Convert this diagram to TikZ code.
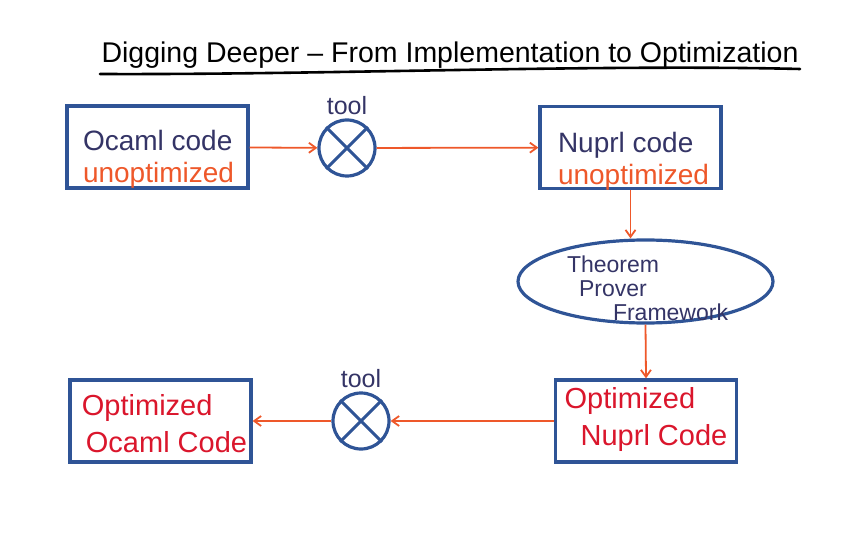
\documentclass[tikz,border=0pt]{standalone}
\usepackage{fontspec}
\setmainfont{Liberation Sans}
\usetikzlibrary{positioning,arrows.meta,shapes.geometric}
\definecolor{BoxBlue}{RGB}{47,84,150}
\definecolor{InkNavy}{RGB}{52,52,102}
\definecolor{InkOrange}{RGB}{238,88,42}
\definecolor{InkRed}{RGB}{218,22,44}
\tikzset{
  flow/.style={-{Straight Barb[length=7pt,width=10pt]},line width=1.8pt,draw=InkOrange},
  codebox/.style={draw=BoxBlue,line width=3.2pt,minimum width=181pt,minimum height=82pt},
  boxtext/.style={align=left,inner sep=0pt,font=\fontsize{28}{32}\selectfont},
  lowtext/.style={boxtext,font=\fontsize{29}{37}\selectfont,text=InkRed},
  toolnode/.style={circle,draw=BoxBlue,line width=3.2pt,minimum size=56pt,inner sep=0pt},
  toollabel/.style={font=\fontsize{25}{28}\selectfont,text=InkNavy},
  provernode/.style={ellipse,draw=BoxBlue,line width=3.2pt,minimum width=255pt,
    minimum height=83pt,inner sep=0pt},
  provertext/.style={align=left,inner sep=0pt,text=InkNavy,font=\fontsize{23}{24}\selectfont}
}

\begin{document}
\begin{tikzpicture}[x=1pt,y=-1pt]
  \useasboundingbox (0,0) rectangle (853,534);
  \node[font=\fontsize{28.5}{32}\selectfont] (title) at (450,55)
    {Digging Deeper -- From Implementation to Optimization};
  \coordinate (ulA) at (100,74);
  \coordinate (ulB) at (800,69);
  \draw[line width=2.6pt,line cap=round] (ulA) .. controls (320,75) and (600,64) .. (ulB);

  % top row
  \node[codebox] (ocaml) at (157.5,147) {};
  \node[boxtext] (ocamlText) at ([xshift=1pt,yshift=-12pt]ocaml.center)
    {{\color{InkNavy}Ocaml code}\\{\color{InkOrange}unoptimized}};
  \node[toolnode] (tool1) at (347,148) {};
  \node[toollabel,above=0pt of tool1] (toolA) {tool};
  \draw[BoxBlue,line width=3pt] (tool1.45) -- (tool1.225) (tool1.135) -- (tool1.315);
  \node[codebox] (nuprl) at (630.5,147.5) {};
  \node[boxtext] (nuprlText) at ([xshift=3pt,yshift=-14pt]nuprl.center)
    {{\color{InkNavy}Nuprl code}\\{\color{InkOrange}unoptimized}};
  \draw[flow] (ocaml) -- (tool1);
  \draw[flow] (tool1) -- (nuprl);

  % prover
  \node[provernode] (prover) at (645.5,281.5) {};
  \node[provertext] (proverText) at ([xshift=2pt,yshift=-7pt]prover.center)
    {Theorem\\\hspace*{12pt}Prover\\\hspace*{46pt}Framework};
  \draw[flow] (nuprl.south) -- (prover.north -| nuprl.south);

  % bottom row
  \node[codebox] (optnuprl) at (646,421) {};
  \node[lowtext] (optnuprlText) at ([yshift=1pt]optnuprl.center)
    {Optimized\\\hspace*{16pt}Nuprl Code};
  \draw[flow] (prover.south) -- (optnuprl.north);

  \node[toolnode] (tool2) at (361,421) {};
  \node[toollabel,above=0pt of tool2] (toolB) {tool};
  \draw[BoxBlue,line width=3pt] (tool2.45) -- (tool2.225) (tool2.135) -- (tool2.315);
  \node[codebox] (optocaml) at (160.5,421) {};
  \node[lowtext] (optocamlText) at ([xshift=4pt,yshift=-3pt]optocaml.center)
    {Optimized\\\hspace*{4pt}Ocaml Code};
  \draw[flow] (optnuprl) -- (tool2);
  \draw[flow] (tool2) -- (optocaml);
\end{tikzpicture}
\end{document}
